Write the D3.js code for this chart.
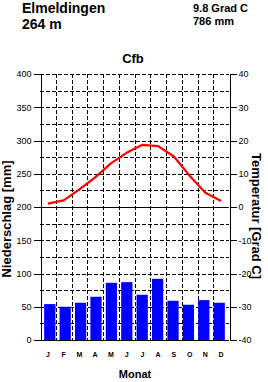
<!DOCTYPE html>
<html lang="de">
<head>
<meta charset="utf-8">
<title>Klimadiagramm Elmeldingen</title>
<script src="https://d3js.org/d3.v7.min.js"></script>
<style>
  body { margin: 0; background: #fff; }
  svg { display: block; font-family: "Liberation Sans", Arial, Helvetica, sans-serif; }
  .grid line { stroke: #000; stroke-width: 1; stroke-dasharray: 4,2; shape-rendering: crispEdges; }
  .axis path, .axis line { stroke: #000; shape-rendering: crispEdges; }
  .axis text { font-size: 9px; fill: #000; }
  .months text { font-size: 7px; font-weight: bold; }
</style>
</head>
<body>
<svg id="chart" width="268" height="382"></svg>
<script>
// station data
const station = "Elmeldingen";
const altitude = "264 m";
const meanTemp = "9.8 Grad C";
const totalPrec = "786 mm";
const climate = "Cfb";

const months = ["J", "F", "M", "A", "M", "J", "J", "A", "S", "O", "N", "D"];
const precip = [54, 50, 56, 65, 86, 87, 68, 92, 59, 53, 60, 56];      // mm
const temp = [1.0, 2.0, 5.3, 8.9, 13.1, 16.3, 18.7, 18.3, 15.2, 9.4, 4.3, 1.8]; // Grad C

const precTicks = [0, 50, 100, 150, 200, 250, 300, 350, 400];
const tempTicks = [-40, -30, -20, -10, 0, 10, 20, 30, 40];

const svg = d3.select("#chart");
const pLeft = 40, pRight = 229, pTop = 74, pBottom = 340;

const x = d3.scaleBand().domain(d3.range(12)).range([pLeft, pRight]).padding(0.27);
const xCol = d3.scaleBand().domain(d3.range(12)).range([pLeft, pRight]);
const yP = d3.scaleLinear().domain([0, 400]).range([pBottom, pTop]);
const yT = d3.scaleLinear().domain([-40, 40]).range([pBottom, pTop]);

// dashed grid, every 25 mm and every month
const grid = svg.append("g").attr("class", "grid");
grid.selectAll(".h")
    .data(d3.range(25, 401, 25).filter(v => v !== 200))
    .enter().append("line")
    .attr("x1", pLeft).attr("x2", pRight)
    .attr("y1", d => Math.round(yP(d)) + 0.5)
    .attr("y2", d => Math.round(yP(d)) + 0.5);
grid.selectAll(".v")
    .data(d3.range(1, 12))
    .enter().append("line")
    .attr("x1", d => Math.round(xCol(d)) + 0.5)
    .attr("x2", d => Math.round(xCol(d)) + 0.5)
    .attr("y1", pTop).attr("y2", pBottom);

// bars
svg.selectAll(".bar")
    .data(precip)
    .enter().append("rect")
    .attr("x", (d, i) => x(i))
    .attr("width", x.bandwidth())
    .attr("y", d => yP(d))
    .attr("height", d => yP(0) - yP(d))
    .attr("fill", "#0000ff");

// 0 Grad / 200 mm line and base line
svg.append("line")
    .attr("x1", pLeft).attr("x2", pRight)
    .attr("y1", Math.round(yT(0)) + 0.5).attr("y2", Math.round(yT(0)) + 0.5)
    .attr("stroke", "#000").style("shape-rendering", "crispEdges");
svg.append("line")
    .attr("x1", pLeft).attr("x2", pRight)
    .attr("y1", pBottom + 0.5).attr("y2", pBottom + 0.5)
    .attr("stroke", "#000").style("shape-rendering", "crispEdges");

// temperature line
const line = d3.line()
    .x((d, i) => xCol(i) + xCol.bandwidth() / 2)
    .y(d => yT(d));
svg.append("path")
    .datum(temp)
    .attr("d", line)
    .attr("fill", "none")
    .attr("stroke", "#ff0000")
    .attr("stroke-width", 2.2)
    .attr("stroke-linejoin", "round");

// axes
svg.append("g").attr("class", "axis")
    .attr("transform", `translate(${pLeft + 0.5},0)`)
    .call(d3.axisLeft(yP).tickValues(precTicks).tickSize(7).tickSizeOuter(0).tickPadding(2));
svg.append("g").attr("class", "axis")
    .attr("transform", `translate(${pRight + 0.5},0)`)
    .call(d3.axisRight(yT).tickValues(tempTicks).tickSize(7).tickSizeOuter(0).tickPadding(2)
        .tickFormat(d => d < 0 ? "-" + Math.abs(d) : d));

// month letters
svg.append("g").attr("class", "months")
    .selectAll("text")
    .data(months)
    .enter().append("text")
    .attr("x", (d, i) => xCol(i) + xCol.bandwidth() / 2)
    .attr("y", 357)
    .attr("text-anchor", "middle")
    .text(d => d);

// titles
svg.append("text").attr("x", 22).attr("y", 13)
    .style("font-size", "14px").style("font-weight", "bold").text(station);
svg.append("text").attr("x", 22).attr("y", 29)
    .style("font-size", "14px").style("font-weight", "bold").text(altitude);
svg.append("text").attr("x", 193).attr("y", 12)
    .style("font-size", "11px").style("font-weight", "bold").text(meanTemp);
svg.append("text").attr("x", 193).attr("y", 25)
    .style("font-size", "11px").style("font-weight", "bold").text(totalPrec);
svg.append("text").attr("x", 133).attr("y", 63).attr("text-anchor", "middle")
    .style("font-size", "13px").style("font-weight", "bold").text(climate);
svg.append("text").attr("x", 135).attr("y", 378).attr("text-anchor", "middle")
    .style("font-size", "11px").style("font-weight", "bold").text("Monat");

svg.append("text")
    .attr("transform", "translate(11,219) rotate(-90)")
    .attr("text-anchor", "middle")
    .style("font-size", "13px").style("font-weight", "bold")
    .text("Niederschlag [mm]");
svg.append("text")
    .attr("transform", "translate(252,216) rotate(90)")
    .attr("text-anchor", "middle")
    .style("font-size", "13px").style("font-weight", "bold")
    .text("Temperatur [Grad C]");
</script>
</body>
</html>
